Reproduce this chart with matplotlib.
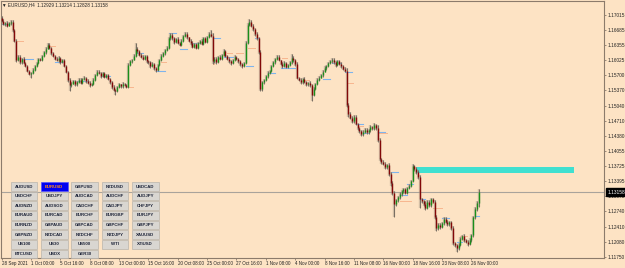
import matplotlib
matplotlib.use('Agg')
import matplotlib.pyplot as plt
from matplotlib.patches import Rectangle
import matplotlib.transforms as mtransforms

plt.rcParams['font.family'] = ['Liberation Sans', 'DejaVu Sans']

# ---- data (EURUSD H4) ----
header = "EURUSD,H4  1.12929 1.13214 1.12828 1.13158"
first_open = 1.1695
closes = [
    1.1688, 1.1681, 1.1684, 1.1678, 1.1683, 1.1686, 1.1668, 1.1645, 1.1604, 1.1610,
    1.1598, 1.1606, 1.1597, 1.1590, 1.1580, 1.1572, 1.1575, 1.1582, 1.1590, 1.1596,
    1.1605, 1.1603, 1.1612, 1.1620, 1.1628, 1.1636, 1.1630, 1.1618, 1.1612, 1.1606,
    1.1602, 1.1608, 1.1598, 1.1603, 1.1590, 1.1578, 1.1560, 1.1548, 1.1552, 1.1557,
    1.1550, 1.1556, 1.1560, 1.1554, 1.1561, 1.1565, 1.1558, 1.1553, 1.1548, 1.1552,
    1.1560, 1.1570, 1.1578, 1.1575, 1.1568, 1.1574, 1.1566, 1.1570, 1.1562, 1.1555,
    1.1545, 1.1538, 1.1536, 1.1544, 1.1550, 1.1546, 1.1552, 1.1548, 1.1545, 1.1592,
    1.1600, 1.1604, 1.1612, 1.1628, 1.1622, 1.1615, 1.1610, 1.1606, 1.1612, 1.1600,
    1.1598, 1.1590, 1.1595, 1.1585, 1.1582, 1.1592, 1.1603, 1.1612, 1.1618, 1.1625,
    1.1630, 1.1650, 1.1658, 1.1650, 1.1642, 1.1648, 1.1640, 1.1636, 1.1645, 1.1655,
    1.1660, 1.1652, 1.1645, 1.1640, 1.1632, 1.1638, 1.1630, 1.1640, 1.1645, 1.1638,
    1.1650, 1.1642, 1.1652, 1.1660, 1.1655, 1.1600, 1.1606, 1.1598, 1.1610, 1.1605,
    1.1614, 1.1622, 1.1612, 1.1605, 1.1600, 1.1596, 1.1603, 1.1610, 1.1605, 1.1600,
    1.1594, 1.1590, 1.1596, 1.1640, 1.1680, 1.1686, 1.1678, 1.1670, 1.1660, 1.1650,
    1.1620, 1.1540, 1.1555, 1.1560, 1.1568, 1.1575, 1.1580, 1.1590, 1.1598, 1.1605,
    1.1610, 1.1602, 1.1595, 1.1590, 1.1596, 1.1588, 1.1592, 1.1598, 1.1608, 1.1602,
    1.1595, 1.1565, 1.1560, 1.1555, 1.1562, 1.1556, 1.1550, 1.1553, 1.1548, 1.1528,
    1.1540, 1.1552, 1.1560, 1.1565, 1.1570, 1.1578, 1.1585, 1.1590, 1.1596, 1.1600,
    1.1604, 1.1598, 1.1592, 1.1600, 1.1595, 1.1590, 1.1584, 1.1580, 1.1505, 1.1485,
    1.1478, 1.1470, 1.1480, 1.1465, 1.1455, 1.1448, 1.1442, 1.1447, 1.1452, 1.1446,
    1.1450, 1.1458, 1.1455, 1.1462, 1.1456, 1.1430, 1.1388, 1.1382, 1.1378, 1.1370,
    1.1375, 1.1355, 1.1335, 1.1315, 1.1290, 1.1298, 1.1305, 1.1312, 1.1318, 1.1322,
    1.1315, 1.1325, 1.1330, 1.1340, 1.1372, 1.1366, 1.1360, 1.1348, 1.1300, 1.1296,
    1.1290, 1.1282, 1.1295, 1.1288, 1.1300, 1.1295, 1.1262, 1.1238, 1.1245, 1.1240,
    1.1248, 1.1258, 1.1252, 1.1246, 1.1250, 1.1238, 1.1205, 1.1200, 1.1195, 1.1202,
    1.1215, 1.1220, 1.1212, 1.1208, 1.1203, 1.1212, 1.1222, 1.1262, 1.1280, 1.12929,
    1.13158,
]
# wick lengths in pips above / below the body
wick_up = [
    3, 4, 2, 3, 2, 4, 3, 2, 3, 4, 3, 2, 3, 2, 3, 2, 3, 4, 2, 3,
    3, 2, 3, 2, 4, 4, 3, 2, 3, 2, 4, 3, 2, 3, 2, 3, 2, 3, 4, 2,
    3, 2, 4, 3, 2, 3, 2, 3, 4, 2, 3, 2, 4, 3, 2, 3, 2, 3, 2, 3,
    2, 3, 2, 3, 4, 2, 3, 2, 3, 4, 3, 2, 5, 12, 3, 2, 3, 4, 2, 3,
    2, 3, 4, 2, 3, 2, 3, 4, 3, 2, 4, 3, 4, 3, 2, 3, 4, 2, 3, 3,
    4, 3, 2, 3, 4, 2, 3, 3, 2, 4, 3, 2, 3, 4, 8, 6, 3, 4, 2, 3,
    3, 6, 2, 3, 4, 2, 3, 4, 2, 3, 3, 2, 3, 4, 3, 6, 3, 4, 2, 3,
    2, 4, 3, 2, 3, 4, 2, 3, 3, 2, 4, 3, 2, 3, 4, 2, 3, 3, 8, 3,
    3, 4, 2, 3, 3, 4, 2, 3, 4, 3, 4, 2, 3, 3, 2, 3, 4, 3, 3, 4,
    4, 3, 3, 4, 2, 3, 3, 4, 6, 5, 4, 3, 4, 3, 2, 3, 4, 3, 3, 4,
    3, 3, 2, 5, 3, 6, 4, 3, 4, 3, 3, 4, 5, 6, 4, 3, 3, 4, 3, 3,
    4, 3, 3, 3, 4, 3, 4, 3, 5, 4, 3, 6, 3, 4, 3, 4, 3, 5, 4, 3,
    4, 3, 4, 3, 3, 4, 5, 3, 4, 3, 4, 3, 4, 3, 3, 4, 3, 3, 4, 3,
    6,
]
wick_dn = [
    3, 2, 3, 4, 2, 3, 4, 3, 6, 3, 4, 3, 2, 3, 3, 2, 9, 3, 2, 3,
    2, 3, 2, 3, 3, 2, 3, 3, 2, 3, 2, 4, 3, 2, 3, 3, 4, 13, 3, 2,
    3, 4, 2, 3, 3, 2, 4, 3, 3, 2, 3, 3, 2, 3, 4, 2, 3, 3, 2, 3,
    4, 3, 9, 3, 2, 3, 4, 2, 3, 3, 2, 3, 2, 3, 4, 3, 2, 3, 2, 3,
    3, 4, 2, 3, 4, 3, 2, 3, 2, 3, 3, 2, 3, 3, 4, 2, 3, 3, 2, 3,
    2, 3, 3, 4, 2, 3, 3, 2, 3, 3, 2, 3, 3, 2, 3, 5, 3, 4, 2, 3,
    3, 2, 3, 3, 4, 3, 2, 3, 3, 4, 3, 5, 3, 2, 3, 2, 3, 3, 4, 3,
    4, 4, 4, 3, 2, 3, 2, 3, 2, 3, 3, 2, 3, 4, 3, 3, 2, 3, 3, 3,
    4, 4, 3, 3, 4, 3, 3, 4, 3, 14, 3, 2, 3, 3, 2, 3, 2, 3, 3, 2,
    3, 3, 4, 3, 3, 4, 3, 3, 5, 6, 4, 3, 3, 4, 4, 3, 4, 3, 3, 3,
    3, 4, 3, 3, 4, 6, 5, 4, 3, 4, 3, 5, 6, 5, 28, 4, 3, 3, 4, 3,
    4, 3, 3, 3, 3, 4, 4, 4, 18, 4, 5, 4, 3, 4, 4, 3, 5, 6, 4, 4,
    3, 4, 3, 4, 4, 5, 5, 4, 9, 4, 3, 4, 4, 3, 4, 3, 4, 3, 4, 4,
    10,
]

# indicator stubs: (first bar, last bar, price)
blue_marks = [
    (0, 4, 1.1681), (11, 17, 1.1605), (29, 34, 1.1599), (41, 47, 1.1557),
    (54, 59, 1.1568), (73, 77, 1.1618), (84, 89, 1.1580), (91, 95, 1.1661),
    (97, 101, 1.1626), (104, 108, 1.1641), (115, 119, 1.1650), (121, 126, 1.1609),
    (133, 137, 1.1589), (138, 140, 1.1651), (145, 149, 1.1574), (152, 160, 1.1585),
    (175, 179, 1.1561), (180, 185, 1.1596), (187, 191, 1.1578), (193, 197, 1.1463),
    (197, 200, 1.1444), (205, 209, 1.1447), (212, 216, 1.1360), (217, 221, 1.1310),
    (221, 224, 1.1334), (228, 231, 1.1300), (240, 244, 1.1260), (248, 251, 1.1208),
    (258, 260, 1.1263),
]
orange_marks = [
    (8, 12, 1.1645), (25, 29, 1.1633), (69, 72, 1.1544), (87, 90, 1.1599),
    (115, 116, 1.1594), (123, 126, 1.1618), (128, 132, 1.1618), (134, 138, 1.1629),
    (153, 156, 1.1607), (165, 168, 1.1560), (189, 192, 1.1553), (194, 197, 1.1460),
    (205, 210, 1.1445), (217, 223, 1.1297), (230, 235, 1.1292), (235, 240, 1.1281),
    (250, 254, 1.1220),
]
zone = (226, 312, 1.13575, 1.13705)   # bar from, bar to, low, high
last_price = 1.13158

y_ticks = [1.17015, 1.16685, 1.16355, 1.16025, 1.15700, 1.15370, 1.15040, 1.14710,
           1.14380, 1.14055, 1.13725, 1.13395, 1.13070, 1.12740, 1.12410, 1.12080, 1.11750]
x_labels = ['28 Sep 2021', '1 Oct 00:00', '5 Oct 16:00', '8 Oct 08:00', '13 Oct 00:00',
            '15 Oct 16:00', '20 Oct 08:00', '25 Oct 00:00', '27 Oct 16:00', '1 Nov 08:00',
            '4 Nov 00:00', '8 Nov 16:00', '11 Nov 08:00', '16 Nov 00:00', '18 Nov 16:00',
            '23 Nov 08:00', '26 Nov 00:00']
bars_per_label = 16

buttons = [
    ['AUDUSD', 'EURUSD', 'GBPUSD', 'NZDUSD', 'USDCAD'],
    ['USDCHF', 'USDJPY', 'AUDCAD', 'AUDCHF', 'AUDJPY'],
    ['AUDNZD', 'AUDSGD', 'CADCHF', 'CADJPY', 'CHFJPY'],
    ['EURAUD', 'EURCAD', 'EURCHF', 'EURGBP', 'EURJPY'],
    ['EURNZD', 'GBPAUD', 'GBPCAD', 'GBPCHF', 'GBPJPY'],
    ['GBPNZD', 'NZDCAD', 'NZDCHF', 'NZDJPY', 'XAUUSD'],
    ['US100', 'US30', 'US500', 'WTI', 'XTIUSD'],
    ['BTCUSD', 'USDX', 'GER30'],
]
active = 'EURUSD'

# ---- figure ----
W, H = 625, 268
bg = '#fde3c4'
frame = '#8c7b6b'
fig = plt.figure(figsize=(W / 100, H / 100), dpi=100, facecolor=bg)
ax = fig.add_axes([1 / W, 10 / H, 603 / W, 257 / H], facecolor=bg)

opens = [first_open] + closes[:-1]
n = len(closes)
xs = list(range(n))
pip = 0.0001
highs = [max(o, c) + u * pip for o, c, u in zip(opens, closes, wick_up)]
lows = [min(o, c) - d * pip for o, c, d in zip(opens, closes, wick_dn)]
body_lo = [min(o, c) for o, c in zip(opens, closes)]
body_hi = [max(o, c) for o, c in zip(opens, closes)]
colors = ['#1a8f1a' if c >= o else '#820808' for o, c in zip(opens, closes)]

ax.axhline(last_price, color='#a9a39b', lw=0.8, zorder=1)
ax.add_patch(Rectangle((zone[0], zone[2]), zone[1] - zone[0], zone[3] - zone[2],
                       facecolor='#40e0d0', edgecolor='none', zorder=1.5))

for b0, b1, p in blue_marks:
    ax.plot([b0, b1], [p, p], color='#7fb4ec', lw=0.8, zorder=2)
for b0, b1, p in orange_marks:
    ax.plot([b0, b1], [p, p], color='#f07a4a', lw=0.6, ls=(0, (1.2, 1.2)), zorder=2)

ax.vlines(xs, lows, highs, color='#b0a08c', lw=1.7, alpha=0.55, zorder=2.5)
ax.vlines(xs, lows, highs, color='#5f584f', lw=0.55, zorder=3)
ax.vlines(xs, body_lo, body_hi, color=colors, lw=1.0, zorder=4)

ax.set_xlim(-0.35, 328.3)
ax.set_ylim(1.11728, 1.17313)

for side in ['left', 'top', 'right', 'bottom']:
    ax.spines[side].set_color(frame)
    ax.spines[side].set_linewidth(0.8)

ax.yaxis.tick_right()
ax.set_yticks(y_ticks, [f'{v:.5f}' for v in y_ticks])
ax.set_xticks([i * bars_per_label for i in range(len(x_labels))], x_labels)
for lbl in ax.get_xticklabels():
    lbl.set_horizontalalignment('left')
ax.tick_params(axis='both', colors=frame, labelcolor='#222222',
               length=1.5, width=0.6, pad=0.8, direction='out')
ax.tick_params(axis='y', labelsize=3.4)
ax.tick_params(axis='x', labelsize=3.25)

# current price tag
trans = mtransforms.blended_transform_factory(ax.transAxes, ax.transData)
ax.text(1.006, last_price, f'{last_price:.5f}', transform=trans, fontsize=3.4,
        color='white', va='center', ha='left', clip_on=False, zorder=6,
        bbox=dict(boxstyle='square,pad=0.3', facecolor='black', edgecolor='black'))

fig.text(2 / W, 1 - 4.8 / H, '\u25bc ' + header, fontsize=3.3, color='#222222',
         va='center', ha='left')

# symbol buttons panel
ov = fig.add_axes([0, 0, 1, 1], facecolor='none')
ov.set_xlim(0, W)
ov.set_ylim(H, 0)
ov.axis('off')
for r, row in enumerate(buttons):
    for c, name in enumerate(row):
        x0 = 10.7 + 30.3 * c
        y0 = 182 + 9.65 * r
        on = name == active
        ov.add_patch(Rectangle((x0, y0), 26.6, 8.6,
                               facecolor='#0000f0' if on else '#d9d6d1',
                               edgecolor='#5050ff' if on else '#b9b4ad', lw=0.5))
        ov.text(x0 + 13.3, y0 + 4.5, name, fontsize=3.2, fontweight='bold',
                color='#ff8c1a' if on else '#1c2338', ha='center', va='center')

fig.savefig('out.png', dpi=100, facecolor=bg)
